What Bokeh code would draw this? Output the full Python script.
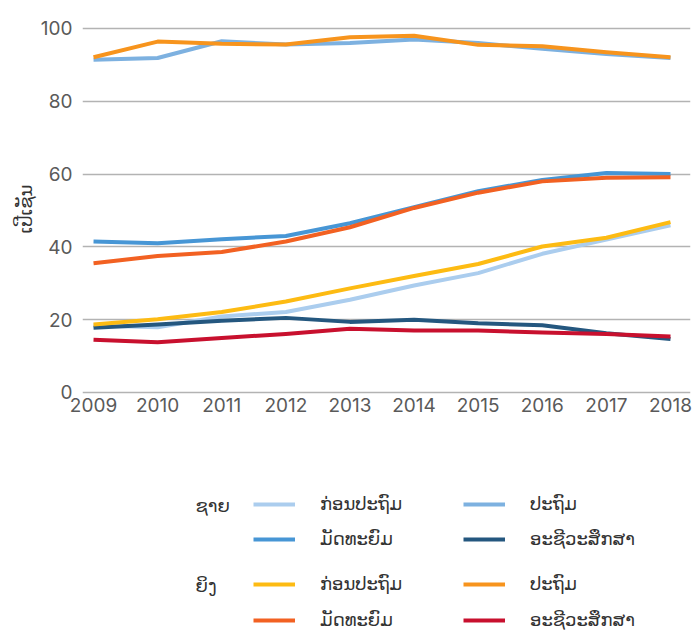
from bokeh.plotting import figure
from bokeh.models import Legend, LegendItem, Label, Range1d, FixedTicker, Title
from bokeh.layouts import column
from bokeh.embed import file_html
from bokeh.resources import INLINE

years = [2009, 2010, 2011, 2012, 2013, 2014, 2015, 2016, 2017, 2018]
male_pre = [18.4, 17.9, 20.9, 22.1, 25.5, 29.4, 32.8, 38.1, 42.0, 45.9]
male_pri = [91.4, 91.9, 96.5, 95.6, 96.0, 97.0, 96.0, 94.4, 93.0, 91.9]
male_lsec = [41.5, 41.0, 42.1, 43.0, 46.5, 50.9, 55.3, 58.4, 60.3, 60.0]
male_voc = [17.8, 18.7, 19.7, 20.5, 19.4, 20.0, 19.0, 18.5, 16.3, 14.7]
female_pre = [18.7, 20.1, 22.1, 25.0, 28.6, 32.0, 35.3, 40.1, 42.5, 46.8]
female_pri = [92.1, 96.4, 95.8, 95.6, 97.6, 98.0, 95.5, 95.1, 93.5, 92.1]
female_lsec = [35.5, 37.5, 38.6, 41.5, 45.4, 50.7, 54.9, 58.0, 59.0, 59.1]
female_voc = [14.5, 13.8, 15.0, 16.1, 17.5, 17.0, 17.0, 16.5, 16.1, 15.4]

y_ticks = [0, 20, 40, 60, 80, 100]
label_pre = "ກ່ອນປະຖົມ"
label_pri = "ປະຖົມ"
label_lsec = "ມັດທະຍົມ"
label_voc = "ອະຊີວະສຶກສາ"
group_male = "ຊາຍ"
group_female = "ຍິງ"
y_title = "ເປີເຊັນ"

LAO_FONT = "DejaVu Sans"
NUM_FONT = "Inter"
LW = 4
colors = ["#abcdee", "#7db1e0", "#4796d5", "#24577f",
          "#fdbb13", "#f7941d", "#f26122", "#c8102e"]
all_series = [male_pre, male_pri, male_lsec, male_voc,
              female_pre, female_pri, female_lsec, female_voc]

W = 695
H1 = 436
H2 = 632 - H1
BL, BR = 82, 5

# ---------------- chart ----------------
p = figure(width=W, height=H1, output_backend="svg", toolbar_location=None,
           x_range=Range1d(2008.828, 2018.312), y_range=Range1d(-1.10, 101.92),
           min_border_left=BL, min_border_right=BR, min_border_top=21,
           min_border_bottom=40)
p.outline_line_color = None
p.xgrid.visible = False
p.ygrid.grid_line_color = "#b3b3b3"
p.ygrid.grid_line_width = 1.5
p.yaxis.ticker = FixedTicker(ticks=y_ticks)
p.xaxis.ticker = FixedTicker(ticks=years)
for ax in (p.xaxis[0], p.yaxis[0]):
    ax.axis_line_color = None
    ax.major_tick_line_color = None
    ax.minor_tick_line_color = None
    ax.major_tick_out = 0
    ax.major_tick_in = 0
    ax.major_label_text_font = NUM_FONT
    ax.major_label_text_font_size = "19px"
    ax.major_label_text_color = "#5a5a5a"
p.yaxis.major_label_standoff = 10
p.xaxis.major_label_standoff = 1

p.add_layout(Title(text=y_title, align="center", offset=23, standoff=4,
                   text_font=LAO_FONT, text_font_size="18px",
                   text_font_style="normal", text_color="#333333"), "left")

for vals, col in zip(all_series, colors):
    p.line(years, vals, line_color=col, line_width=LW, line_join="round")

# ---------------- legend panel ----------------
# frame aligned with the chart frame; data coords here = page pixels
q = figure(width=W, height=H2, output_backend="svg", toolbar_location=None,
           x_range=Range1d(BL, W - BR), y_range=Range1d(H2, 0),
           x_axis_type=None, y_axis_type=None,
           min_border_left=BL, min_border_right=BR, min_border_top=0,
           min_border_bottom=0)
q.outline_line_color = None
q.grid.visible = False

# same series (they fall outside this panel's range) used as legend sources
lr = [q.line(years, vals, line_color=col, line_width=LW)
      for vals, col in zip(all_series, colors)]

def make_legend(items, loc, spacing):
    lg = Legend(items=items, location=loc, orientation="vertical",
                padding=0, margin=0, spacing=spacing,
                glyph_width=42, glyph_height=20, label_height=20,
                label_standoff=25, label_text_font=LAO_FONT,
                label_text_font_size="18px", label_text_color="#333333",
                border_line_alpha=0, background_fill_alpha=0)
    q.add_layout(lg)

make_legend([LegendItem(label=label_pre, renderers=[lr[0]]),
             LegendItem(label=label_lsec, renderers=[lr[2]])], (253 - BL, 83), 14)
make_legend([LegendItem(label=label_pri, renderers=[lr[1]]),
             LegendItem(label=label_voc, renderers=[lr[3]])], (463 - BL, 83), 14)
make_legend([LegendItem(label=label_pre, renderers=[lr[4]]),
             LegendItem(label=label_lsec, renderers=[lr[6]])], (253 - BL, 2), 15)
make_legend([LegendItem(label=label_pri, renderers=[lr[5]]),
             LegendItem(label=label_voc, renderers=[lr[7]])], (463 - BL, 2), 15)

q.add_layout(Label(x=195, y=69, text=group_male, text_font=LAO_FONT,
                   text_font_size="18px", text_color="#333333",
                   text_align="left", text_baseline="middle"))
q.add_layout(Label(x=195, y=149, text=group_female, text_font=LAO_FONT,
                   text_font_size="18px", text_color="#333333",
                   text_align="left", text_baseline="middle"))

layout = column(p, q, spacing=0)
open("out.html", "w").write(file_html(layout, INLINE))
